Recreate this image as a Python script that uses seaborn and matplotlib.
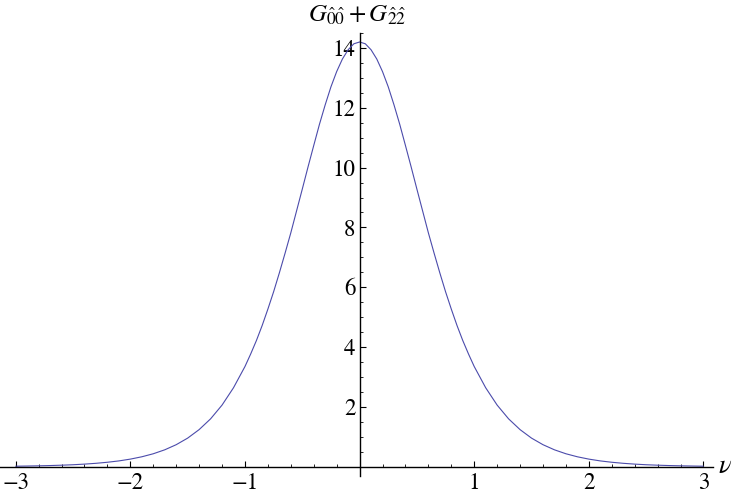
import numpy as np
import pandas as pd
import matplotlib
matplotlib.use("Agg")
import matplotlib.pyplot as plt
import seaborn as sns
from matplotlib.ticker import MultipleLocator, FixedLocator

# values (right half; curve is symmetric about nu = 0)
nu_half = [0.0, 0.05, 0.1, 0.15, 0.2, 0.25, 0.3, 0.35, 0.4, 0.45, 0.5,
           0.55, 0.6, 0.65, 0.7, 0.75, 0.8, 0.85, 0.9, 0.95, 1.0,
           1.1, 1.2, 1.3, 1.4, 1.5, 1.6, 1.7, 1.8, 1.9, 2.0,
           2.1, 2.2, 2.3, 2.4, 2.5, 2.6, 2.7, 2.8, 2.9, 3.0]
g_half = [14.2, 14.14, 13.94, 13.63, 13.21, 12.70, 12.10, 11.45, 10.74, 10.02, 9.28,
          8.55, 7.82, 7.14, 6.48, 5.85, 5.27, 4.72, 4.22, 3.77, 3.35,
          2.64, 2.06, 1.60, 1.24, 0.956, 0.736, 0.565, 0.433, 0.332, 0.254,
          0.194, 0.149, 0.114, 0.087, 0.066, 0.051, 0.039, 0.030, 0.023, 0.017]

nu_vals = [-v for v in nu_half[:0:-1]] + nu_half
g_vals = g_half[:0:-1] + g_half

x_ticks = [-3, -2, -1, 1, 2, 3]
y_ticks = [2, 4, 6, 8, 10, 12, 14]

df = pd.DataFrame({"nu": nu_vals, "G": g_vals})

sns.set_theme(style="white")
plt.rcParams["font.family"] = ["STIXGeneral", "DejaVu Serif"]
plt.rcParams["mathtext.fontset"] = "stix"

fig = plt.figure(figsize=(7.4, 4.98), dpi=100)
ax = fig.add_axes([0.0, 0.0442, 0.9635, 0.8895])
sns.lineplot(data=df, x="nu", y="G", ax=ax, color="#4b4bab", linewidth=0.8)

ax.set_xlim(-3.137, 3.083)
ax.set_ylim(-0.31, 14.5)

for s in ["top", "right"]:
    ax.spines[s].set_visible(False)
ax.spines["left"].set_position(("data", 0))
ax.spines["bottom"].set_position(("data", 0))
for s in ["left", "bottom"]:
    ax.spines[s].set_color("black")
    ax.spines[s].set_linewidth(1.0)

ax.xaxis.set_major_locator(FixedLocator(x_ticks))
ax.yaxis.set_major_locator(FixedLocator(y_ticks))
ax.xaxis.set_minor_locator(MultipleLocator(0.2))
ax.yaxis.set_minor_locator(MultipleLocator(0.5))
ax.set_xticklabels([f"{t}" if t > 0 else f"\u2212{-t}" for t in x_ticks])
ax.set_yticklabels([str(t) for t in y_ticks])

ax.tick_params(axis="both", which="major", direction="in", length=4.5, width=0.8,
               color="black", labelsize=16.5, labelcolor="black", pad=3)
ax.tick_params(axis="x", which="major", pad=4)
ax.tick_params(axis="both", which="minor", direction="in", length=2.5, width=0.6,
               color="black")
ax.tick_params(axis="x", which="both", bottom=True, top=False)
ax.tick_params(axis="y", which="both", left=True, right=False)

ax.set_xlabel("")
ax.set_ylabel("")
ax.grid(False)

fig.text(0.483, 0.956, r"$G_{\hat{0}\hat{0}}+G_{\hat{2}\hat{2}}$", ha="center", va="baseline",
         fontsize=18, color="black")
fig.text(0.98, 0.05, r"$\nu$", ha="center", va="baseline", fontsize=19, color="black")

fig.savefig("out.png", dpi=100)
